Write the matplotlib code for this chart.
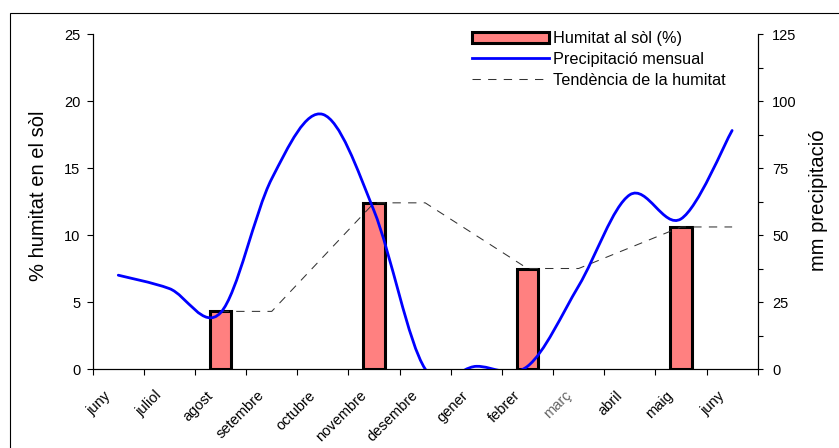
import numpy as np
import matplotlib
matplotlib.use("Agg")
import matplotlib.pyplot as plt
from matplotlib.path import Path
from matplotlib.patches import PathPatch, Rectangle
from matplotlib.lines import Line2D
import matplotlib.transforms as mtransforms

plt.rcParams["font.family"] = ["Liberation Sans", "DejaVu Sans"]

# Monthly data (June to June)
mesos = ["juny", "juliol", "agost", "setembre", "octubre", "novembre", "desembre",
         "gener", "febrer", "març", "abril", "maig", "juny"]
humitat = [None, None, 4.3, None, None, 12.4, None, None, 7.5, None, None, 10.6, None]
precipitacio = [35, 30, 21, 71, 95, 59, 0, 1, 1, 31, 65, 56, 89]
tendencia = [None, None, 4.3, 4.3, None, 12.4, 12.4, None, 7.5, 7.5, None, 10.6, 10.6]

W, H = 839, 448
fig = plt.figure(figsize=(W / 100, H / 100), dpi=100)

# outer frame
fig.add_artist(Rectangle((9.5 / W, -0.1), 2, (H - 13.5) / H + 0.1,
                         transform=fig.transFigure, fill=False,
                         edgecolor="black", lw=0.8, clip_on=False))

ax = fig.add_axes([92.7 / W, 79 / H, 665 / W, 335 / H])
ax2 = ax.twinx()

x = np.arange(len(mesos))

# soil moisture bars
bx = [i for i, v in enumerate(humitat) if v is not None]
bv = [humitat[i] for i in bx]
bars = ax.bar(bx, bv, width=0.42, color="#FF8080", edgecolor="black",
              linewidth=2.2, zorder=2, label="Humitat al sòl (%)")

# moisture trend (dashed)
tx = [i for i, v in enumerate(tendencia) if v is not None]
tv = [tendencia[i] for i in tx]
trend, = ax.plot(tx, tv, color="#333333", lw=0.75, linestyle=(0, (8, 7)),
                 zorder=3, label="Tendència de la humitat")


def smooth_path(xs, ys):
    pts = np.column_stack([xs, ys]).astype(float)
    n = len(pts)
    verts = [pts[0]]
    codes = [Path.MOVETO]
    for i in range(n - 1):
        p0 = pts[i - 1] if i > 0 else pts[i]
        p1, p2 = pts[i], pts[i + 1]
        p3 = pts[i + 2] if i + 2 < n else pts[i + 1]
        verts += [p1 + (p2 - p0) / 6, p2 - (p3 - p1) / 6, p2]
        codes += [Path.CURVE4] * 3
    return Path(verts, codes)


# smoothed monthly precipitation on the right axis
ax2.add_patch(PathPatch(smooth_path(x, precipitacio), fill=False,
                        edgecolor="#0000FF", lw=2.0, zorder=3,
                        capstyle="round", joinstyle="round"))

ax.set_xlim(-0.5, len(mesos) - 0.5)
ax.set_ylim(0, 25)
ax2.set_ylim(0, 125)

# x axis: tick marks between months, labels centred on months
ax.set_xticks(np.arange(-0.5, len(mesos), 1))
ax.set_xticklabels([])
ax.set_xticks(x, mesos, minor=True)
ax.tick_params(axis="x", which="major", direction="out", length=4, width=0.8)
ax.tick_params(axis="x", which="minor", length=0, pad=14, labelsize=10.5)
offset = mtransforms.ScaledTranslation(-5 / 100, 0, fig.dpi_scale_trans)
for lab in ax.get_xticklabels(minor=True):
    lab.set_rotation(45)
    lab.set_ha("right")
    lab.set_va("top")
    lab.set_transform(lab.get_transform() + offset)
    if lab.get_text() == "març":
        lab.set_color("#666666")

ax.set_yticks(np.arange(0, 26, 5))
ax.tick_params(axis="y", direction="out", length=4, width=0.8, pad=5, labelsize=10.5)
ax2.set_yticks(np.arange(0, 126, 25))
ax2.set_yticks(np.arange(0, 126, 12.5), minor=True)
ax2.tick_params(axis="y", which="major", direction="out", length=3.5, width=0.8,
                pad=7, labelsize=10.5)
ax2.tick_params(axis="y", which="minor", direction="out", length=3.5, width=0.8)

for a in (ax, ax2):
    a.spines["top"].set_visible(False)
    for s in a.spines.values():
        s.set_linewidth(0.8)

fig.text(39 / W, (H - 196) / H, "% humitat en el sòl", rotation=90,
         ha="center", va="center", fontsize=14.5)
fig.text(818 / W, (H - 200) / H, "mm precipitació", rotation=90,
         ha="center", va="center", fontsize=14.5)

handles = [bars, Line2D([], [], color="#0000FF", lw=2.0), trend]
labels = ["Humitat al sòl (%)", "Precipitació mensual", "Tendència de la humitat"]
ax2.legend(handles, labels, loc="upper left",
           bbox_to_anchor=(471.7 / W, (H - 31) / H), bbox_transform=fig.transFigure,
           frameon=False, fontsize=11.7, borderpad=0, borderaxespad=0,
           handlelength=4.74, handleheight=0.71, handletextpad=0.26,
           labelspacing=0.37)

fig.savefig("out.png", dpi=100)
